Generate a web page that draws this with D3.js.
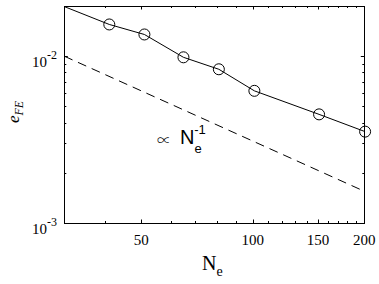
<!DOCTYPE html>
<html>
<head>
<meta charset="utf-8">
<script src="https://cdn.jsdelivr.net/npm/d3@7"></script>
<style>
  body { margin: 0; background: #fff; }
  svg text { fill: #000; }
</style>
</head>
<body>
<div id="chart"></div>
<script>
// Data
const neValues = [25, 41, 51, 65, 81, 101, 151, 201];
const errValues = [0.024, 0.0155, 0.0135, 0.00985, 0.00835, 0.0062, 0.00448, 0.00353];
// reference slope line (prop. to 1/Ne)
const refNe = [31, 200];
const refErr = [0.0100, 0.00155];
// ticks
const xTicks = [50, 100, 150, 200];
const xMinorTicks = [40, 60, 70, 80, 90, 110, 120, 130, 140, 160, 170, 180, 190];
const yTicks = [-3, -2];
const yMinorTicks = [0.002, 0.003, 0.004, 0.005, 0.006, 0.007, 0.008, 0.009];

const width = 379;
const height = 284;
const margin = { top: 6, right: 14.7, bottom: 61, left: 64.3 };

const serif = '"Liberation Serif", "Times New Roman", serif';
const sans = '"Liberation Sans", Arial, sans-serif';

const svg = d3.select('#chart')
  .append('svg')
  .attr('width', width)
  .attr('height', height);

const x = d3.scaleLog()
  .domain([31, 200])
  .range([margin.left, width - margin.right]);

const y = d3.scaleLog()
  .domain([0.001, 0.02])
  .range([height - margin.bottom, margin.top]);

const [x0, x1] = x.range();
const [y0, y1] = y.range(); // y0 bottom, y1 top

svg.append('clipPath')
  .attr('id', 'plot-clip')
  .append('rect')
  .attr('x', x0)
  .attr('y', y1)
  .attr('width', x1 - x0)
  .attr('height', y0 - y1);

// ticks pointing inward on all four sides
const tickGroup = svg.append('g')
  .attr('stroke', '#000')
  .attr('stroke-width', 1);

function xTick(value, len) {
  const px = Math.round(x(value)) + 0.5;
  tickGroup.append('line').attr('x1', px).attr('x2', px).attr('y1', y0).attr('y2', y0 - len);
  tickGroup.append('line').attr('x1', px).attr('x2', px).attr('y1', y1).attr('y2', y1 + len);
}
function yTick(value, len) {
  const py = Math.round(y(value)) + 0.5;
  tickGroup.append('line').attr('x1', x0).attr('x2', x0 + len).attr('y1', py).attr('y2', py);
  tickGroup.append('line').attr('x1', x1).attr('x2', x1 - len).attr('y1', py).attr('y2', py);
}
xTicks.forEach(v => xTick(v, 3.5));
xMinorTicks.forEach(v => xTick(v, 2));
yTicks.forEach(v => yTick(Math.pow(10, v), 3.5));
yMinorTicks.forEach(v => yTick(v, 2));

// box
svg.append('rect')
  .attr('x', Math.round(x0) + 0.5)
  .attr('y', Math.round(y1) + 0.5)
  .attr('width', Math.round(x1) - Math.round(x0))
  .attr('height', Math.round(y0) - Math.round(y1))
  .attr('fill', 'none')
  .attr('stroke', '#000')
  .attr('stroke-width', 1);

// x tick labels
svg.append('g')
  .selectAll('text')
  .data(xTicks)
  .enter()
  .append('text')
  .attr('x', d => x(d))
  .attr('y', 245)
  .attr('text-anchor', 'middle')
  .style('font-family', serif)
  .style('font-size', '15px')
  .text(d => d);

// y tick labels as 10^n
const yLabels = svg.append('g')
  .selectAll('text')
  .data(yTicks)
  .enter()
  .append('text')
  .attr('x', 57)
  .attr('y', d => y(Math.pow(10, d)) + 10.5)
  .attr('text-anchor', 'end')
  .style('font-family', serif)
  .style('font-size', '15px');
yLabels.append('tspan').text('10');
yLabels.append('tspan')
  .attr('dy', -7.5)
  .style('font-size', '12px')
  .text(d => '-' + Math.abs(d));

// axis labels
const xLabel = svg.append('text')
  .attr('x', 202)
  .attr('y', 270)
  .style('font-family', serif)
  .style('font-size', '20px');
xLabel.append('tspan').text('N');
xLabel.append('tspan').attr('dy', 6).style('font-size', '14px').text('e');

const yLabel = svg.append('text')
  .attr('transform', 'translate(19,112) rotate(-90)')
  .attr('text-anchor', 'middle')
  .style('font-family', serif)
  .style('font-style', 'italic')
  .style('font-size', '17px');
yLabel.append('tspan').text('e');
yLabel.append('tspan').attr('dy', 4).style('font-size', '12px').text('FE');

// lines
const line = d3.line()
  .x((d, i) => x(d))
  .y((d, i) => y(errValues[i]));

svg.append('path')
  .attr('clip-path', 'url(#plot-clip)')
  .attr('d', line(neValues))
  .attr('fill', 'none')
  .attr('stroke', '#000')
  .attr('stroke-width', 1);

svg.append('path')
  .attr('clip-path', 'url(#plot-clip)')
  .attr('d', d3.line().x(d => x(d)).y((d, i) => y(refErr[i]))(refNe))
  .attr('fill', 'none')
  .attr('stroke', '#000')
  .attr('stroke-width', 1)
  .attr('stroke-dasharray', '9,6');

// circle markers (only those inside the x range)
svg.append('g')
  .selectAll('circle')
  .data(neValues.map((n, i) => ({ n, e: errValues[i] })).filter(d => d.n >= x.domain()[0]))
  .enter()
  .append('circle')
  .attr('cx', d => x(d.n))
  .attr('cy', d => y(d.e))
  .attr('r', 5.5)
  .attr('fill', 'none')
  .attr('stroke', '#000')
  .attr('stroke-width', 1);

// annotation: proportional to Ne^-1
svg.append('text')
  .attr('x', 157)
  .attr('y', 145)
  .style('font-family', '"Noto Sans CJK JP", "DejaVu Sans", sans-serif')
  .style('font-weight', 300)
  .style('font-size', '14px')
  .text('\u221D');
const ann = svg.append('text')
  .attr('x', 180)
  .attr('y', 144.3)
  .style('font-family', sans)
  .style('font-size', '20px');
ann.append('tspan').text('N');
ann.append('tspan').attr('dy', 9).style('font-size', '13px').text('e');
ann.append('tspan').attr('dx', -7.5).attr('dy', -19).style('font-size', '13px').text('-1');
</script>
</body>
</html>
